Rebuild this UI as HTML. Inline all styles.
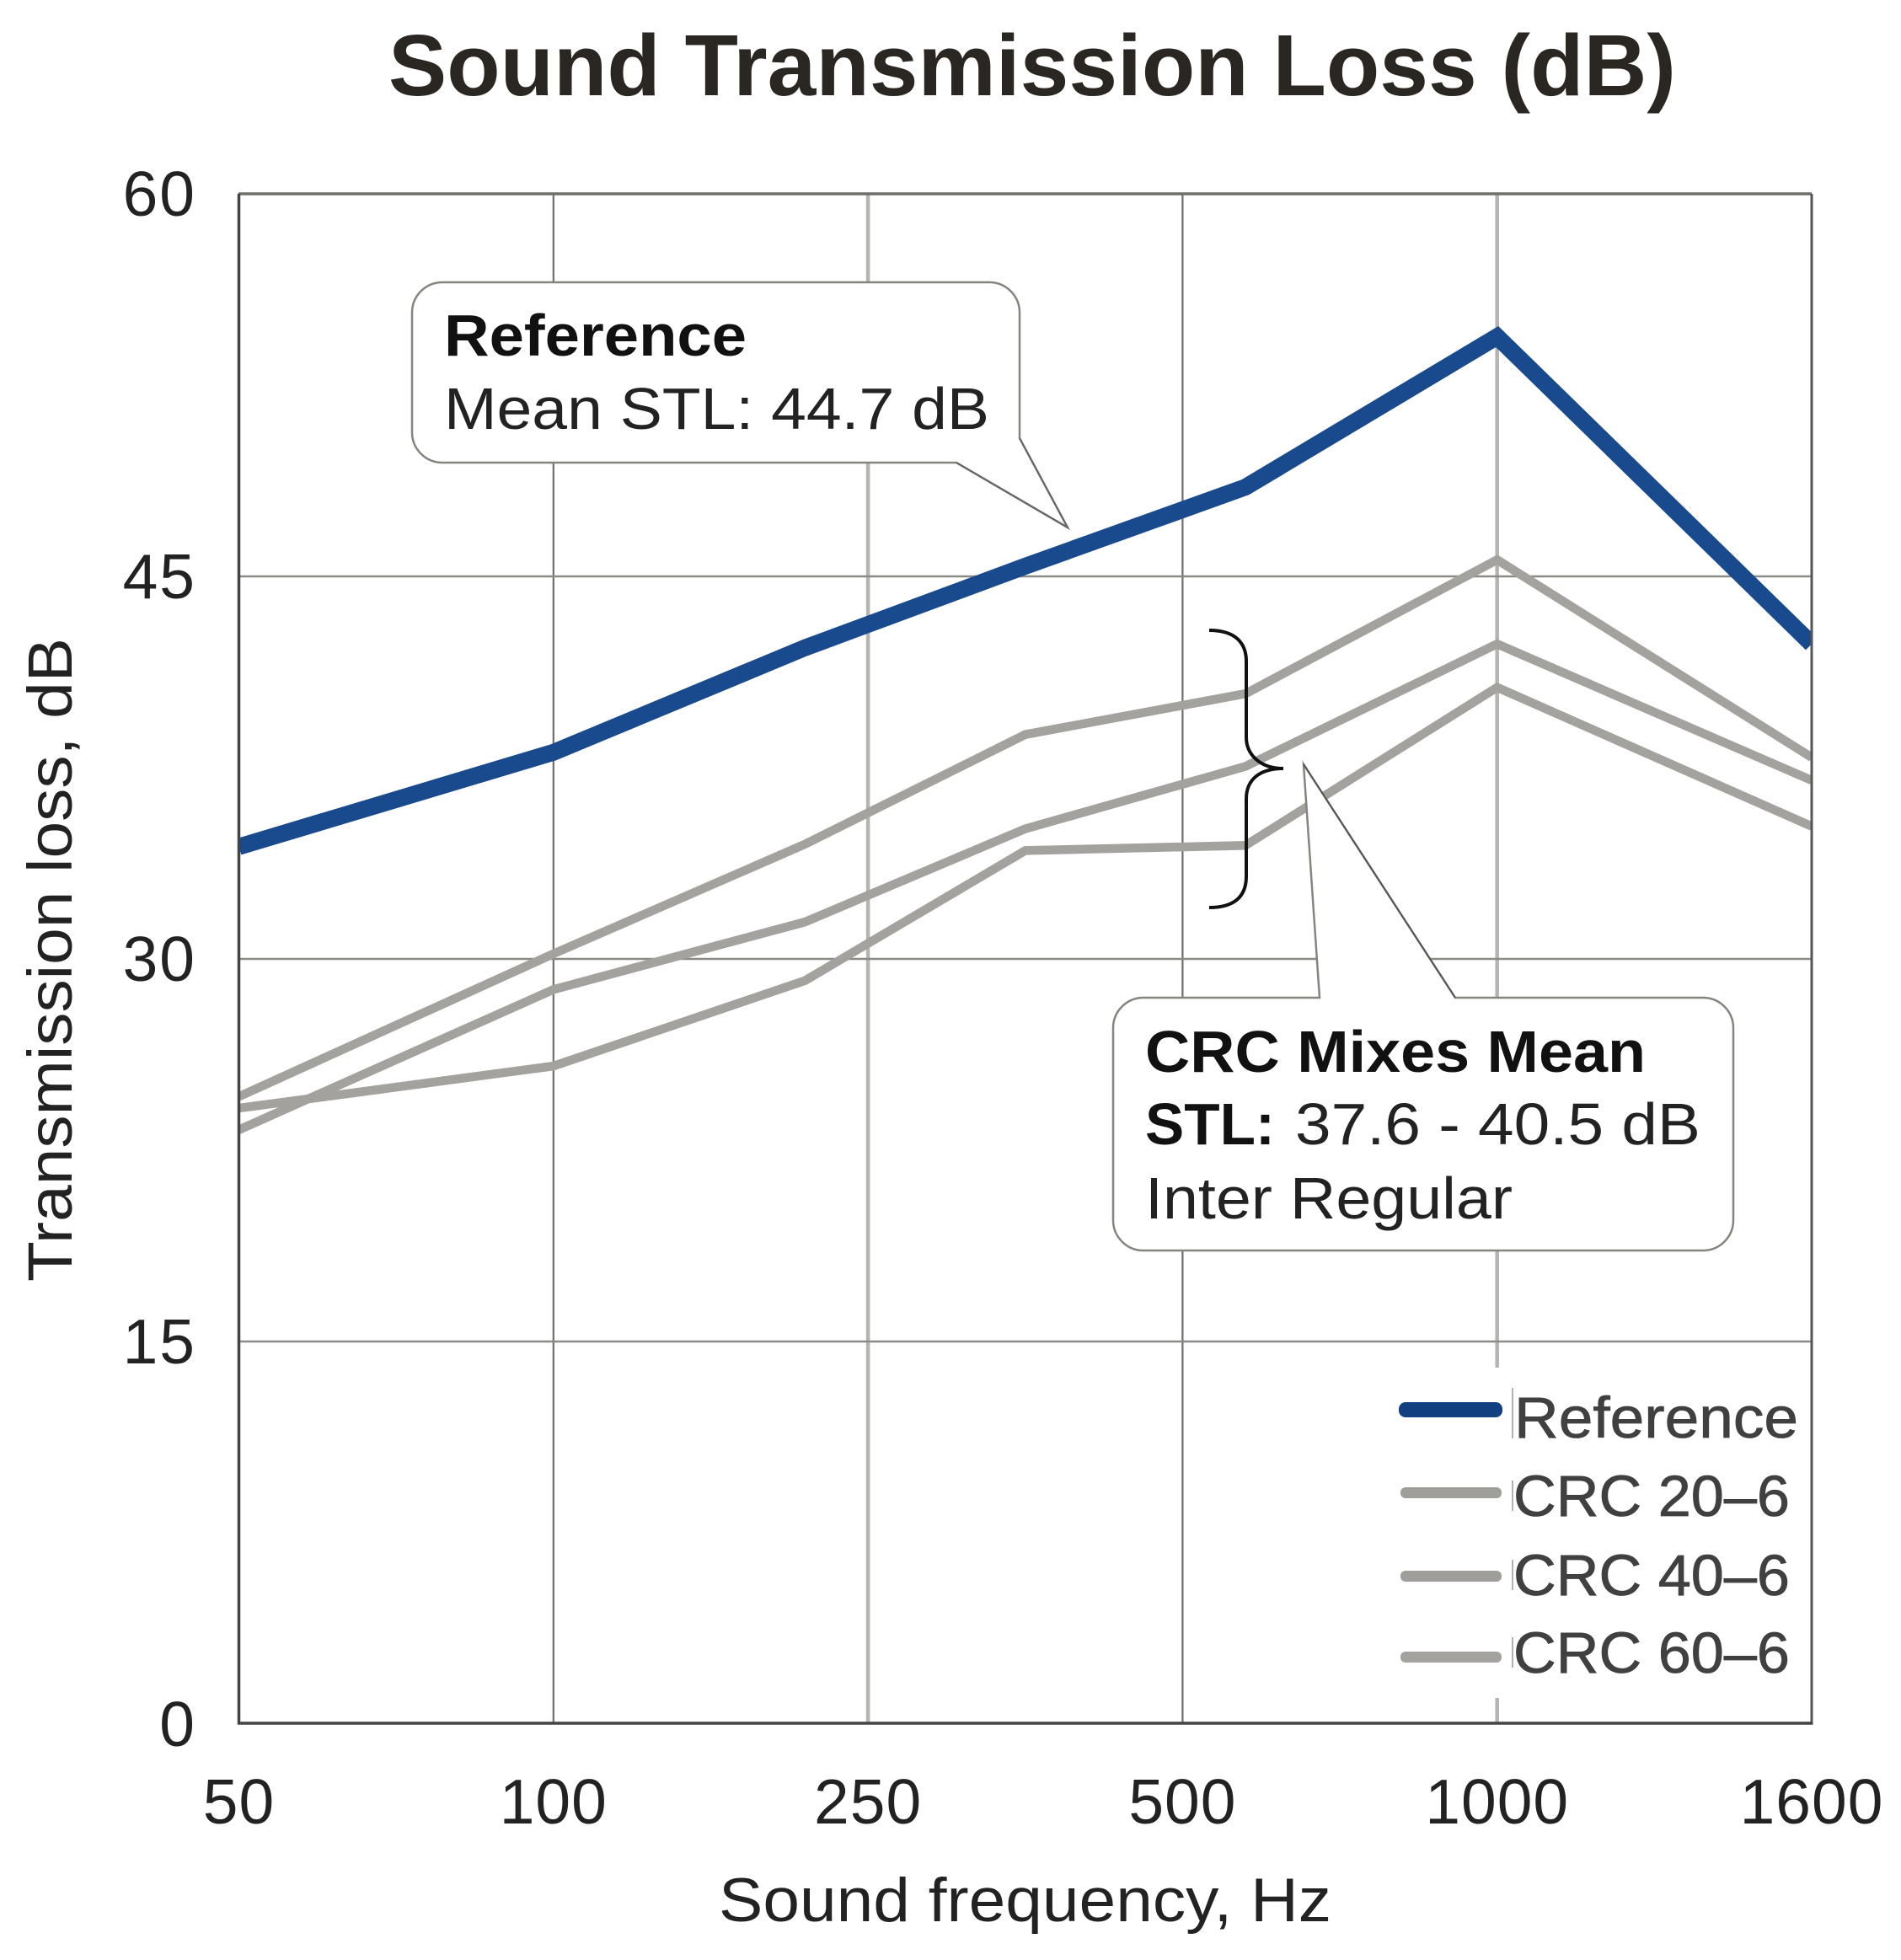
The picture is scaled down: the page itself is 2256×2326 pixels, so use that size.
<!DOCTYPE html>
<html lang="en">
<head>
<meta charset="utf-8">
<title>Sound Transmission Loss (dB)</title>
<style>
html,body{margin:0;padding:0;background:#fff;}
body{width:2256px;height:2326px;overflow:hidden;}
svg{display:block;font-family:"Liberation Sans",sans-serif;}
</style>
</head>
<body>
<svg id="chart" xmlns="http://www.w3.org/2000/svg" width="2256" height="2326" viewBox="0 0 2256 2326">
  <defs><clipPath id="plot-clip"><rect x="283.5" y="230" width="1866.5" height="1816"/></clipPath></defs>
  <rect x="0" y="0" width="2256" height="2326" fill="#fff"/>
  <text x="461" y="113" font-size="103" font-weight="700" fill="#2a2723" textLength="1528" lengthAdjust="spacingAndGlyphs">Sound Transmission Loss (dB)</text>
  <g id="grid"></g>
  <g id="series" clip-path="url(#plot-clip)"></g>
  <g id="frame">
    <line x1="283" y1="230" x2="2150" y2="230" stroke="#6f6f6a" stroke-width="3.5"/>
    <line x1="2150" y1="230" x2="2150" y2="2046" stroke="#555" stroke-width="3"/>
    <line x1="283.5" y1="230" x2="283.5" y2="2046" stroke="#444" stroke-width="3.5"/>
    <line x1="282" y1="2045" x2="2151.5" y2="2045" stroke="#444" stroke-width="3.5"/>
  </g>
  <g id="x-ticks" font-size="75" fill="#222" text-anchor="middle"></g>
  <g id="y-ticks" font-size="75" fill="#222" text-anchor="end"></g>
  <text x="853" y="2280" font-size="73" fill="#222" textLength="727" lengthAdjust="spacingAndGlyphs">Sound frequency, Hz</text>
  <text transform="translate(85 1521) rotate(-90)" x="0" y="0" font-size="74" fill="#222" textLength="764" lengthAdjust="spacingAndGlyphs">Transmission loss, dB</text>

  <g>
    <path d="M525 335H1175A36 36 0 0 1 1210 371V520L1267 626L1135 549H525A36 36 0 0 1 489 513V371A36 36 0 0 1 525 335Z" fill="#fff" stroke="#85857f" stroke-width="2.5"/>
    <path d="M1210 520L1267 626L1135 549" fill="none" stroke="#666" stroke-width="2"/>
    <text x="527" y="422" font-size="70" font-weight="700" fill="#111" textLength="359" lengthAdjust="spacingAndGlyphs">Reference</text>
    <text x="527" y="509" font-size="70" fill="#222" textLength="647" lengthAdjust="spacingAndGlyphs">Mean STL: 44.7 dB</text>
  </g>

  <path d="M1435 748C1465 748 1479 762 1479 785V875C1479 895 1495 912 1523 912C1495 912 1479 925 1479 948V1040C1479 1064 1465 1077 1435 1077" fill="none" stroke="#111" stroke-width="4"/>

  <g>
    <path d="M1357 1184H1566L1547 907L1727 1184H2021A36 36 0 0 1 2057 1220V1448A36 36 0 0 1 2021 1484H1357A36 36 0 0 1 1321 1448V1220A36 36 0 0 1 1357 1184Z" fill="#fff" stroke="#85857f" stroke-width="2.5"/>
    <path d="M1547 907L1727 1184" fill="none" stroke="#555" stroke-width="2"/>
    <text x="1359" y="1272" font-size="70" font-weight="700" fill="#111" textLength="594" lengthAdjust="spacingAndGlyphs">CRC Mixes Mean</text>
    <text x="1359" y="1358" font-size="70" font-weight="700" fill="#111" textLength="154" lengthAdjust="spacingAndGlyphs">STL:</text>
    <text x="1537" y="1358" font-size="70" fill="#222" textLength="481" lengthAdjust="spacingAndGlyphs">37.6 - 40.5 dB</text>
    <text x="1359" y="1446" font-size="70" fill="#222" textLength="436" lengthAdjust="spacingAndGlyphs">Inter Regular</text>
  </g>

  <g>
    <rect x="1650" y="1623" width="490" height="392" fill="#fff"/>
    <rect x="1660" y="1664" width="123" height="18" rx="8" fill="#123f80"/>
    <line x1="1795" y1="1647" x2="1795" y2="1707" stroke="#999" stroke-width="1.5"/>
    <text x="1797" y="1706" font-size="69" fill="#404040" stroke="#404040" stroke-width="0.8" textLength="337" lengthAdjust="spacingAndGlyphs">Reference</text>
    <rect x="1662" y="1765" width="120" height="13" rx="6" fill="#9f9e9a"/>
    <line x1="1795" y1="1757" x2="1795" y2="1793" stroke="#999" stroke-width="1.5"/>
    <text x="1796" y="1799" font-size="69" fill="#404040" stroke="#404040" stroke-width="0.8" textLength="328" lengthAdjust="spacingAndGlyphs">CRC 20–6</text>
    <rect x="1662" y="1864" width="120" height="13" rx="6" fill="#9f9e9a"/>
    <line x1="1795" y1="1851" x2="1795" y2="1887" stroke="#999" stroke-width="1.5"/>
    <text x="1796" y="1893" font-size="69" fill="#404040" stroke="#404040" stroke-width="0.8" textLength="328" lengthAdjust="spacingAndGlyphs">CRC 40–6</text>
    <rect x="1662" y="1960" width="120" height="13" rx="6" fill="#a3a29e"/>
    <line x1="1795" y1="1943" x2="1795" y2="1979" stroke="#999" stroke-width="1.5"/>
    <text x="1796" y="1985" font-size="69" fill="#404040" stroke="#404040" stroke-width="0.8" textLength="328" lengthAdjust="spacingAndGlyphs">CRC 60–6</text>
  </g>
</svg>
<script>
const xTickValues = [50, 100, 250, 500, 1000, 1600];
const xTickLabels = ['50', '100', '250', '500', '1000', '1600'];
const yTickValues = [0, 15, 30, 45, 60];
const yTickLabels = ['0', '15', '30', '45', '60'];
const frequencies = [50, 100, 220, 375, 600, 1000, 1600];
const referenceValues = [34.4, 38.1, 42.2, 45.4, 48.5, 54.4, 42.35];
const crc20Values = [24.6, 30.2, 34.5, 38.8, 40.4, 45.65, 37.9];
const crc40Values = [23.3, 28.8, 31.45, 35.1, 37.55, 42.35, 37.0];
const crc60Values = [24.15, 25.8, 29.15, 34.25, 34.45, 40.65, 35.2];

const SVG_NS = 'http://www.w3.org/2000/svg';
const plot = { left: 283.5, right: 2150, top: 230, bottom: 2046 };

function xScale(freq) {
  const step = (plot.right - plot.left) / (xTickValues.length - 1);
  let i = 0;
  while (i < xTickValues.length - 2 && freq > xTickValues[i + 1]) i++;
  const t = (freq - xTickValues[i]) / (xTickValues[i + 1] - xTickValues[i]);
  return plot.left + (i + t) * step;
}
function yScale(v) {
  return plot.bottom - (v / 60) * (plot.bottom - plot.top);
}
function make(tag, parent) {
  const el = document.createElementNS(SVG_NS, tag);
  parent.appendChild(el);
  return el;
}

const gridGroup = document.getElementById('grid');
xTickValues.forEach(function (tick, i) {
  if (i === 0 || i === xTickValues.length - 1) return;
  const el = make('line', gridGroup);
  
  
  el.setAttribute('x1', xScale(tick));
  el.setAttribute('x2', xScale(tick));
  el.setAttribute('y1', plot.top);
  el.setAttribute('y2', plot.bottom);
  el.setAttribute('stroke', i % 2 ? '#6e6e6a' : '#b5b4b0');
  el.setAttribute('stroke-width', i % 2 ? 2.2 : 4.5);
});
yTickValues.forEach(function (tick) {
  if (tick === 0 || tick === 60) return;
  const el = make('line', gridGroup);
  
  
  el.setAttribute('x1', plot.left);
  el.setAttribute('x2', plot.right);
  el.setAttribute('y1', yScale(tick));
  el.setAttribute('y2', yScale(tick));
  el.setAttribute('stroke', '#8a8a86');
  el.setAttribute('stroke-width', 2.5);
});

const xTickGroup = document.getElementById('x-ticks');
xTickValues.forEach(function (tick, i) {
  const el = make('text', xTickGroup);
  
  
  el.setAttribute('x', xScale(tick));
  el.setAttribute('y', 2164);
  el.setAttribute('letter-spacing', '1');
  el.textContent = xTickLabels[i];
});
const yTickGroup = document.getElementById('y-ticks');
yTickValues.forEach(function (tick, i) {
  const el = make('text', yTickGroup);
  
  
  el.setAttribute('x', 233);
  el.setAttribute('y', yScale(tick) + 26);
  el.setAttribute('letter-spacing', '2');
  el.textContent = yTickLabels[i];
});

function linePath(values) {
  return values.map(function (v, i) {
    return (i ? 'L' : 'M') + xScale(frequencies[i]).toFixed(1) + ' ' + yScale(v).toFixed(1);
  }).join('');
}
const seriesGroup = document.getElementById('series');

const crc60Line = make('path', seriesGroup);


crc60Line.setAttribute('d', linePath(crc60Values));
crc60Line.setAttribute('fill', 'none');
crc60Line.setAttribute('stroke', '#a3a29e');
crc60Line.setAttribute('stroke-width', 10.5);

const crc40Line = make('path', seriesGroup);


crc40Line.setAttribute('d', linePath(crc40Values));
crc40Line.setAttribute('fill', 'none');
crc40Line.setAttribute('stroke', '#a3a29e');
crc40Line.setAttribute('stroke-width', 10.5);

const crc20Line = make('path', seriesGroup);


crc20Line.setAttribute('d', linePath(crc20Values));
crc20Line.setAttribute('fill', 'none');
crc20Line.setAttribute('stroke', '#a3a29e');
crc20Line.setAttribute('stroke-width', 10.5);

const referenceLine = make('path', seriesGroup);


referenceLine.setAttribute('d', linePath(referenceValues));
referenceLine.setAttribute('fill', 'none');
referenceLine.setAttribute('stroke', '#184a8d');
referenceLine.setAttribute('stroke-width', 20);
</script>
</body>
</html>
